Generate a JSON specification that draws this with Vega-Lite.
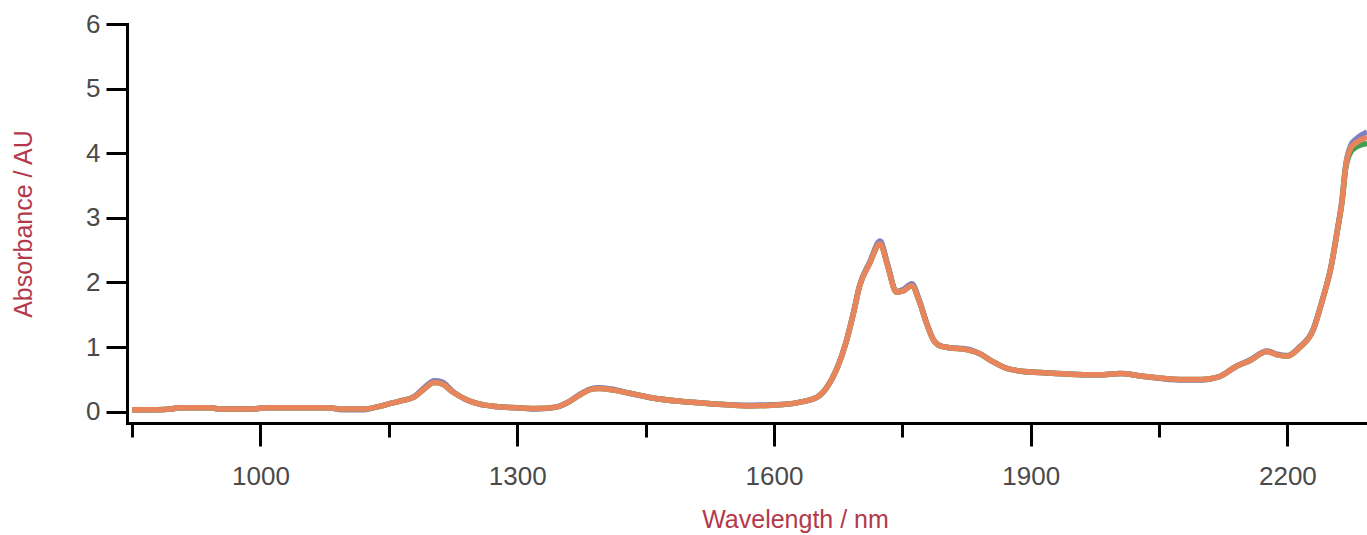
{
  "$schema": "https://vega.github.io/schema/vega-lite/v6.json",
  "width": 1240,
  "height": 399,
  "autosize": {"type": "none"},
  "padding": {"left": 127, "top": 24, "right": 0, "bottom": 112},
  "background": "white",
  "config": {
    "view": {"stroke": null},
    "axis": {
      "grid": false,
      "domainColor": "#000000",
      "domainWidth": 3,
      "domainCap": "square",
      "tickColor": "#000000",
      "tickWidth": 3,
      "labelFont": "Liberation Sans",
      "labelFontSize": 26,
      "labelColor": "#4a4a4a",
      "labelOverlap": false,
      "labelFlush": false,
      "titleFont": "Liberation Sans",
      "titleFontSize": 25,
      "titleFontWeight": "normal",
      "titleColor": "#b3394b"
    }
  },
  "data": {
    "values": [
      {"nm": 850, "a": 0.03, "b": 0.03, "c": 0.03},
      {"nm": 880, "a": 0.03, "b": 0.03, "c": 0.03},
      {"nm": 895, "a": 0.04, "b": 0.04, "c": 0.04},
      {"nm": 905, "a": 0.06, "b": 0.06, "c": 0.06},
      {"nm": 940, "a": 0.06, "b": 0.06, "c": 0.06},
      {"nm": 955, "a": 0.04, "b": 0.04, "c": 0.04},
      {"nm": 990, "a": 0.04, "b": 0.04, "c": 0.04},
      {"nm": 1005, "a": 0.06, "b": 0.06, "c": 0.06},
      {"nm": 1080, "a": 0.06, "b": 0.06, "c": 0.06},
      {"nm": 1095, "a": 0.04, "b": 0.03, "c": 0.04},
      {"nm": 1120, "a": 0.04, "b": 0.03, "c": 0.04},
      {"nm": 1135, "a": 0.07, "b": 0.07, "c": 0.07},
      {"nm": 1150, "a": 0.12, "b": 0.12, "c": 0.12},
      {"nm": 1165, "a": 0.17, "b": 0.17, "c": 0.17},
      {"nm": 1180, "a": 0.23, "b": 0.24, "c": 0.23},
      {"nm": 1192, "a": 0.36, "b": 0.38, "c": 0.36},
      {"nm": 1203, "a": 0.45, "b": 0.48, "c": 0.45},
      {"nm": 1212, "a": 0.43, "b": 0.46, "c": 0.43},
      {"nm": 1225, "a": 0.3, "b": 0.31, "c": 0.3},
      {"nm": 1240, "a": 0.19, "b": 0.19, "c": 0.19},
      {"nm": 1255, "a": 0.12, "b": 0.12, "c": 0.12},
      {"nm": 1275, "a": 0.08, "b": 0.08, "c": 0.08},
      {"nm": 1300, "a": 0.06, "b": 0.06, "c": 0.06},
      {"nm": 1320, "a": 0.05, "b": 0.04, "c": 0.05},
      {"nm": 1345, "a": 0.07, "b": 0.07, "c": 0.07},
      {"nm": 1360, "a": 0.15, "b": 0.15, "c": 0.15},
      {"nm": 1372, "a": 0.25, "b": 0.26, "c": 0.25},
      {"nm": 1385, "a": 0.34, "b": 0.35, "c": 0.34},
      {"nm": 1395, "a": 0.36, "b": 0.37, "c": 0.36},
      {"nm": 1410, "a": 0.34, "b": 0.35, "c": 0.34},
      {"nm": 1430, "a": 0.29, "b": 0.29, "c": 0.29},
      {"nm": 1455, "a": 0.22, "b": 0.22, "c": 0.22},
      {"nm": 1490, "a": 0.16, "b": 0.16, "c": 0.16},
      {"nm": 1530, "a": 0.12, "b": 0.12, "c": 0.12},
      {"nm": 1570, "a": 0.09, "b": 0.1, "c": 0.09},
      {"nm": 1610, "a": 0.11, "b": 0.11, "c": 0.11},
      {"nm": 1635, "a": 0.16, "b": 0.16, "c": 0.16},
      {"nm": 1650, "a": 0.22, "b": 0.22, "c": 0.22},
      {"nm": 1662, "a": 0.38, "b": 0.38, "c": 0.38},
      {"nm": 1673, "a": 0.65, "b": 0.65, "c": 0.65},
      {"nm": 1685, "a": 1.11, "b": 1.11, "c": 1.11},
      {"nm": 1693, "a": 1.53, "b": 1.54, "c": 1.53},
      {"nm": 1700, "a": 1.94, "b": 1.95, "c": 1.94},
      {"nm": 1712, "a": 2.3, "b": 2.32, "c": 2.3},
      {"nm": 1724, "a": 2.6, "b": 2.64, "c": 2.6},
      {"nm": 1733, "a": 2.25, "b": 2.27, "c": 2.25},
      {"nm": 1743, "a": 1.85, "b": 1.86, "c": 1.85},
      {"nm": 1751, "a": 1.87, "b": 1.89, "c": 1.87},
      {"nm": 1761, "a": 1.95, "b": 1.98, "c": 1.95},
      {"nm": 1770, "a": 1.7, "b": 1.72, "c": 1.7},
      {"nm": 1778, "a": 1.38, "b": 1.39, "c": 1.38},
      {"nm": 1786, "a": 1.12, "b": 1.12, "c": 1.12},
      {"nm": 1794, "a": 1.02, "b": 1.02, "c": 1.02},
      {"nm": 1805, "a": 0.99, "b": 0.99, "c": 0.99},
      {"nm": 1825, "a": 0.96, "b": 0.97, "c": 0.96},
      {"nm": 1840, "a": 0.9, "b": 0.9, "c": 0.9},
      {"nm": 1855, "a": 0.78, "b": 0.78, "c": 0.78},
      {"nm": 1870, "a": 0.68, "b": 0.68, "c": 0.68},
      {"nm": 1887, "a": 0.63, "b": 0.63, "c": 0.63},
      {"nm": 1920, "a": 0.6, "b": 0.6, "c": 0.6},
      {"nm": 1980, "a": 0.57, "b": 0.57, "c": 0.57},
      {"nm": 2005, "a": 0.59, "b": 0.59, "c": 0.59},
      {"nm": 2030, "a": 0.55, "b": 0.55, "c": 0.55},
      {"nm": 2075, "a": 0.5, "b": 0.49, "c": 0.5},
      {"nm": 2100, "a": 0.5, "b": 0.49, "c": 0.5},
      {"nm": 2120, "a": 0.54, "b": 0.54, "c": 0.54},
      {"nm": 2140, "a": 0.7, "b": 0.7, "c": 0.7},
      {"nm": 2156, "a": 0.79, "b": 0.8, "c": 0.79},
      {"nm": 2176, "a": 0.93, "b": 0.94, "c": 0.93},
      {"nm": 2188, "a": 0.88, "b": 0.89, "c": 0.88},
      {"nm": 2200, "a": 0.86, "b": 0.87, "c": 0.86},
      {"nm": 2214, "a": 0.99, "b": 1.0, "c": 0.99},
      {"nm": 2230, "a": 1.26, "b": 1.27, "c": 1.26},
      {"nm": 2241, "a": 1.73, "b": 1.74, "c": 1.73},
      {"nm": 2251, "a": 2.24, "b": 2.25, "c": 2.24},
      {"nm": 2258, "a": 2.77, "b": 2.79, "c": 2.77},
      {"nm": 2264, "a": 3.28, "b": 3.3, "c": 3.27},
      {"nm": 2268, "a": 3.79, "b": 3.81, "c": 3.76},
      {"nm": 2274, "a": 4.08, "b": 4.12, "c": 4.02},
      {"nm": 2281, "a": 4.17, "b": 4.23, "c": 4.1},
      {"nm": 2293, "a": 4.25, "b": 4.33, "c": 4.15}
    ]
  },
  "encoding": {
    "x": {
      "field": "nm",
      "type": "quantitative",
      "scale": {"domain": [844, 2293], "nice": false, "zero": false},
      "axis": {
        "values": [850, 1000, 1150, 1300, 1450, 1600, 1750, 1900, 2050, 2200],
        "format": "d",
        "labelExpr": "(datum.value - 1000) % 300 === 0 ? datum.label : ''",
        "tickSize": 23,
        "tickDash": {"condition": {"test": "(datum.value - 1000) % 300 !== 0", "value": [14, 40]}, "value": [40, 0]},
        "labelPadding": 17,
        "title": "Wavelength / nm",
        "titleX": 668,
        "titleY": 104,
        "titleAlign": "center",
        "titleBaseline": "alphabetic"
      }
    }
  },
  "layer": [
    {
      "mark": {"type": "line", "stroke": "#7c80c6", "strokeWidth": 5.5, "interpolate": "monotone", "clip": true},
      "encoding": {
        "y": {
          "field": "b",
          "type": "quantitative",
          "scale": {"domain": [-0.175, 6], "nice": false, "zero": false},
          "axis": {"values": [0, 1, 2, 3, 4, 5, 6], "format": "d", "tickSize": 21, "labelPadding": 6, "title": "Absorbance / AU", "titleX": -96, "titleBaseline": "alphabetic"}
        }
      }
    },
    {
      "mark": {"type": "line", "stroke": "#3f9f4f", "strokeWidth": 5.5, "interpolate": "monotone", "clip": true},
      "encoding": {
        "y": {
          "field": "c",
          "type": "quantitative",
          "axis": {"values": [0, 1, 2, 3, 4, 5, 6], "format": "d", "tickSize": 21, "labelPadding": 6, "title": "Absorbance / AU", "titleX": -96, "titleBaseline": "alphabetic"}
        }
      }
    },
    {
      "mark": {"type": "line", "stroke": "#e8855d", "strokeWidth": 5.5, "interpolate": "monotone", "clip": true},
      "encoding": {
        "y": {
          "field": "a",
          "type": "quantitative",
          "axis": {"values": [0, 1, 2, 3, 4, 5, 6], "format": "d", "tickSize": 21, "labelPadding": 6, "title": "Absorbance / AU", "titleX": -96, "titleBaseline": "alphabetic"}
        }
      }
    }
  ]
}
